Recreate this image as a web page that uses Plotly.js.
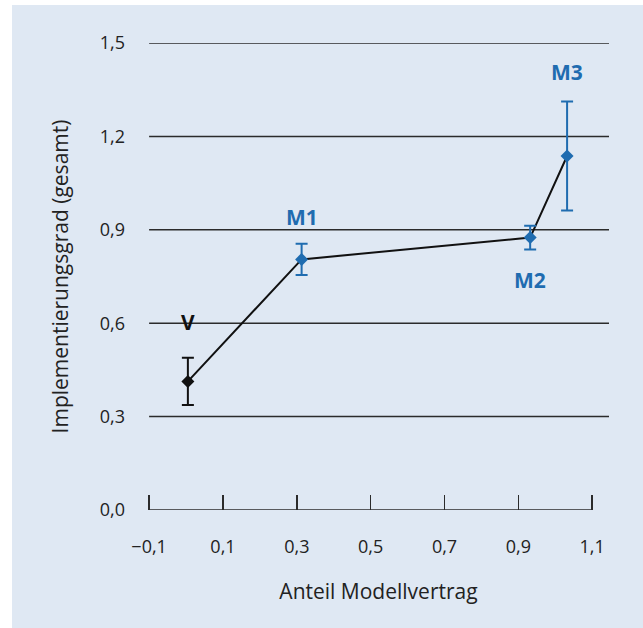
<!DOCTYPE html>
<html>
<head>
<meta charset="utf-8">
<script src="https://cdn.plot.ly/plotly-3.0.1.min.js"></script>
<style>
  html, body { margin:0; padding:0; background:#ffffff; width:643px; height:628px; overflow:hidden; }
  #chart { position:absolute; left:12px; top:5px; width:631px; height:623px; }
</style>
</head>
<body>
<div id="chart"></div>
<script>
// Data
const labels = ["V", "M1", "M2", "M3"];
const xShare = [0.005, 0.313, 0.932, 1.032];
const yImpl = [0.413, 0.805, 0.875, 1.137];
const yErr = [0.076, 0.05, 0.038, 0.175];
const xTickVals = [-0.1, 0.1, 0.3, 0.5, 0.7, 0.9, 1.1];
const yTickVals = [0.0, 0.3, 0.6, 0.9, 1.2, 1.5];

const BLUE = "#1f6cb0";
const BG = "#dfe8f3";
const FONT = "Open Sans, Noto Sans, sans-serif";
const pointColors = ["#111111", BLUE, BLUE, BLUE];

const traces = [];
// connecting line
traces.push({
  x: xShare, y: yImpl, type: "scatter", mode: "lines",
  line: {color: "#111111", width: 2}, hoverinfo: "skip", showlegend: false
});
// points with error bars
labels.forEach((lab, i) => {
  traces.push({
    x: [xShare[i]], y: [yImpl[i]], type: "scatter", mode: "markers",
    marker: {symbol: "diamond", size: 10, color: pointColors[i]},
    error_y: {type: "data", array: [yErr[i]], visible: true, color: pointColors[i], thickness: 2, width: 6},
    showlegend: false, cliponaxis: false
  });
});

// label offsets (pixels) relative to each point
const labelShift = [59, 42, -42, 84];
const annotations = labels.map((lab, i) => ({
  x: xShare[i], y: yImpl[i], xref: "x", yref: "y",
  text: "<b>" + lab + "</b>", showarrow: false, yshift: labelShift[i],
  font: {family: FONT, size: 21, color: pointColors[i]}
}));

const shapes = [];
yTickVals.filter(v => v > 0).forEach(v => {
  shapes.push({type: "line", xref: "x", yref: "y", x0: -0.1, x1: 1.1455, y0: v, y1: v,
    line: {color: "#2b2b2b", width: 1.5}, layer: "below"});
});
// x axis baseline
shapes.push({type: "line", xref: "x", yref: "y", x0: xTickVals[0], x1: xTickVals[xTickVals.length - 1], y0: 0, y1: 0,
  line: {color: "#2b2b2b", width: 1.5}, layer: "below"});

const layout = {
  width: 631, height: 623,
  paper_bgcolor: BG, plot_bgcolor: BG,
  margin: {l: 136, r: 34, t: 38, b: 118, pad: 0},
  separators: ", ",
  font: {family: FONT, size: 18, color: "#222222"},
  showlegend: false,
  xaxis: {
    range: [-0.103, 1.1455], tickvals: xTickVals, tickformat: ".1f",
    ticks: "inside", ticklen: 15, tickwidth: 1.5, tickcolor: "#2b2b2b",
    showgrid: false, zeroline: false, showline: false,
    ticklabelstandoff: 24,
    title: {text: "Anteil Modellvertrag", font: {family: FONT, size: 21, color: "#222222"}, standoff: 27},
    automargin: false, fixedrange: true
  },
  yaxis: {
    range: [0, 1.5], tickvals: yTickVals, tickformat: ".1f",
    ticks: "", showgrid: false, zeroline: false, showline: false,
    ticklabelstandoff: 22,
    title: {text: "Implementierungsgrad (gesamt)", font: {family: FONT, size: 21, color: "#222222"}, standoff: 25},
    automargin: false, fixedrange: true
  },
  shapes: shapes,
  annotations: annotations
};

Plotly.newPlot("chart", traces, layout, {displayModeBar: false, staticPlot: true});
</script>
</body>
</html>
